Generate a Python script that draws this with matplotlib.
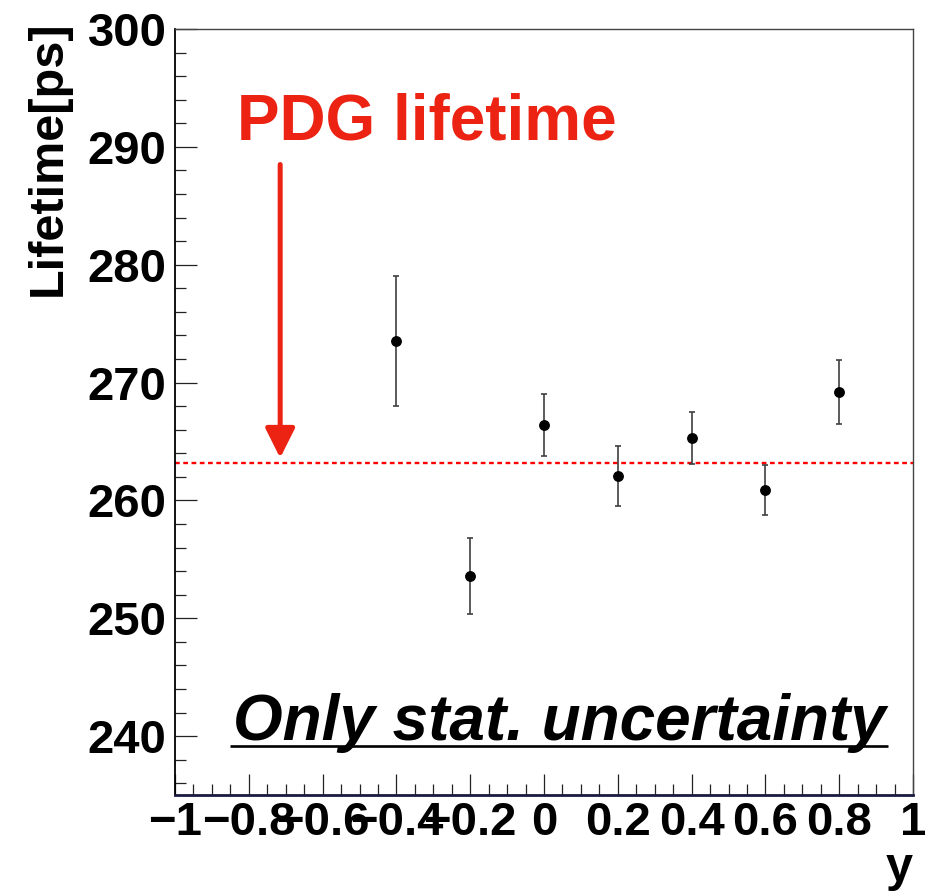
import numpy as np
import matplotlib
matplotlib.use("Agg")
import matplotlib.pyplot as plt
from matplotlib.ticker import FixedLocator, FixedFormatter, MultipleLocator

plt.rcParams['font.family'] = ['Liberation Sans', 'DejaVu Sans']
plt.rcParams['font.weight'] = 'bold'

# datos
y_bins = [-0.4, -0.2, 0.0, 0.2, 0.4, 0.6, 0.8]
lifetime = [273.5, 253.6, 266.4, 262.1, 265.3, 260.9, 269.2]
lifetime_err = [5.5, 3.25, 2.65, 2.55, 2.2, 2.1, 2.7]
pdg_lifetime = 263.2

x_ticks = [-1.0, -0.8, -0.6, -0.4, -0.2, 0.0, 0.2, 0.4, 0.6, 0.8, 1.0]
x_ticklabels = ['\u22121', '\u22120.8', '\u22120.6', '\u22120.4', '\u22120.2', '0',
                '0.2', '0.4', '0.6', '0.8', '1']
y_ticks = [240, 250, 260, 270, 280, 290, 300]

fig = plt.figure(figsize=(9.44, 8.96), dpi=100)
ax = fig.add_axes([175/944, 1-795/896, (913-175)/944, (795-29)/896])

ax.set_xlim(-1, 1)
ax.set_ylim(235, 300)

# línea PDG
ax.axhline(pdg_lifetime, color='#ff0000', lw=1.7, ls=(0, (2, 1.5)), zorder=1)

# puntos con barras de error
ax.errorbar(y_bins, lifetime, yerr=lifetime_err, fmt='o', color='black',
            ecolor='#404040', elinewidth=1.2, capsize=2.2, capthick=1.2,
            markersize=6.8, zorder=3)

# flecha y texto PDG
red = '#ec2213'
ax.annotate('', xy=(-0.715, pdg_lifetime + 0.4), xytext=(-0.715, 288.5),
            arrowprops=dict(arrowstyle='-|>,head_length=1.0,head_width=0.5',
                            mutation_scale=18, lw=3.6, color=red,
                            shrinkA=0, shrinkB=0))
ax.text(-0.832, 290.65, 'PDG lifetime', color=red, fontsize=46,
        fontweight='bold', ha='left', va='baseline')

# texto subrayado
t = ax.text(-0.843, 239.68, 'Only stat. uncertainty', color='black', fontsize=46,
            fontweight='bold', fontstyle='italic', ha='left', va='baseline')
fig.canvas.draw()
bb = t.get_window_extent()
inv = ax.transData.inverted()
x0, _ = inv.transform((bb.x0 - 3, 0))
x1, _ = inv.transform((bb.x1 + 2, 0))
ax.plot([x0, x1], [239.17, 239.17], color='black', lw=1.9, solid_capstyle='butt')

# ejes estilo ROOT
ax.xaxis.set_major_locator(FixedLocator(x_ticks))
ax.xaxis.set_major_formatter(FixedFormatter(x_ticklabels))
ax.xaxis.set_minor_locator(MultipleLocator(0.05))
ax.yaxis.set_major_locator(FixedLocator(y_ticks))
ax.yaxis.set_minor_locator(MultipleLocator(2))

ax.tick_params(axis='both', which='both', direction='in', top=False, right=False,
               width=0.9, color='#222222')
ax.tick_params(axis='x', which='major', length=15, pad=4, labelsize=34)
ax.tick_params(axis='x', which='minor', length=7.7)
ax.tick_params(axis='y', which='major', length=16, pad=6, labelsize=34)
ax.tick_params(axis='y', which='minor', length=8)

for lab in ax.get_xticklabels() + ax.get_yticklabels():
    lab.set_fontweight('bold')

ax.spines['left'].set_color('black')
ax.spines['left'].set_linewidth(1.3)
ax.spines['bottom'].set_color('#1a1a40')
ax.spines['bottom'].set_linewidth(2.0)
ax.spines['top'].set_color('#444444')
ax.spines['top'].set_linewidth(1.0)
ax.spines['right'].set_color('#444444')
ax.spines['right'].set_linewidth(1.0)

fig.text(48/944, 1-20/896, 'Lifetime[ps]', rotation=90, fontsize=35,
         fontweight='bold', ha='center', va='top')
fig.text(913/944, 1-881/896, 'y', fontsize=35, fontweight='bold',
         ha='right', va='baseline')

fig.savefig('out.png', dpi=100)
